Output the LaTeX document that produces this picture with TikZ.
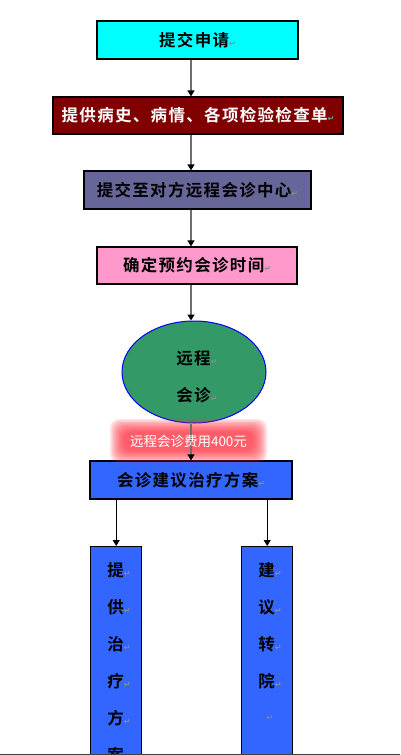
\documentclass[tikz,border=0pt]{standalone}
\usepackage{fontspec}
\newfontfamily\cjk{Noto Sans CJK SC}[BoldFont={Noto Sans CJK SC Bold},LetterSpace=8]
\newfontfamily\cjkplain{Noto Sans CJK SC}
\newfontfamily\dv{DejaVu Sans}
\usetikzlibrary{arrows.meta,shapes.geometric}
\definecolor{cyanbox}{HTML}{00FFFF}
\definecolor{redbox}{HTML}{800000}
\definecolor{purplebox}{HTML}{666699}
\definecolor{pinkbox}{HTML}{FF99CC}
\definecolor{greenell}{HTML}{339966}
\definecolor{bluebox}{HTML}{3366FF}
\definecolor{markgray}{HTML}{8C8C8C}
\definecolor{linegray}{HTML}{6E6E6E}
\definecolor{glowred}{HTML}{FF2A3C}
\newcommand\parmark{{\dv\fontsize{8}{8}\selectfont\color{markgray}↵}}
\begin{document}
\begin{tikzpicture}[x=1pt,y=-1pt,
  box/.style={draw=black, line width=1.2pt, minimum height=38pt, inner sep=0pt,
    font=\cjk\bfseries\fontsize{16.5}{20}\selectfont},
  vbox/.style={draw=black, line width=1.2pt, fill=bluebox, minimum width=51pt,
    minimum height=260pt, anchor=north, inner sep=0pt},
  vchar/.style={inner sep=0pt, font=\cjk\bfseries\fontsize{16.5}{20}\selectfont},
  conn/.style={draw=linegray, line width=1.3pt, -{Triangle[black,length=6pt,width=7pt]}},
  bconn/.style={draw=black, line width=1.1pt, -{Triangle[black,length=6pt,width=7pt]}},
  fee/.style={inner sep=0pt, text=white, font=\cjkplain\fontsize{13.5}{15}\selectfont}
]
\useasboundingbox (0,0) rectangle (400,755);
\clip (0,0) rectangle (400,755);
\fill[white] (0,0) rectangle (400,755);
\coordinate (ax) at (191,0);

\node[box, fill=cyanbox, minimum width=201pt] (b1) at (197.5,40) {提交申请\parmark};
\node[box, fill=redbox, text=white, minimum width=290pt, minimum height=37pt] (b2) at (198,115.5) {提供病史、病情、各项检验检查单\parmark};
\node[box, fill=purplebox, minimum width=227pt] (b3) at (197.5,190) {提交至对方远程会诊中心\parmark};
\node[box, fill=pinkbox, minimum width=200pt, minimum height=37pt] (b4) at (197,265.5) {确定预约会诊时间\parmark};
\node[ellipse, draw=blue, line width=1pt, fill=greenell, minimum width=144pt, minimum height=102pt, inner sep=0pt] (e) at (194,372) {};
\node[vchar] (e1) at (193.5,358) {远程\rlap{\parmark}};
\node[vchar] (e2) at (193.5,395) {会诊\rlap{\parmark}};
\node[box, fill=bluebox, minimum width=202pt] (b6) at (191,480) {会诊建议治疗方案\parmark};

\node[vbox] (v1) at (116.2,546) {};
\node[vbox] (v2) at (267.2,546) {};
\foreach \c [count=\i] in {提,供,治,疗,方,案}
  \node[vchar] at (115.5,{570+37*(\i-1)}) {\c\rlap{\parmark}};
\foreach \c [count=\i] in {建,议,转,院}
  \node[vchar] at (266.5,{570+37*(\i-1)}) {\c\rlap{\parmark}};
\node[inner sep=0pt] at (270,718) {\parmark};

% glow behind fee label
\foreach \k in {0,...,9}
  \fill[glowred, opacity=0.13, rounded corners=9pt]
    ({124-14+1.5*\k},{432-13+1.4*\k}) rectangle ({253+14-1.5*\k},{450+13-1.4*\k});

\draw[conn] (b1.south -| ax) -- (b2.north -| ax);
\draw[conn] (b2.south -| ax) -- (b3.north -| ax);
\draw[conn] (b3.south -| ax) -- (b4.north -| ax);
\draw[conn] (b4.south -| ax) -- (e.north -| ax);
\draw[conn] (e.south -| ax) -- (b6.north -| ax);
\draw[bconn] (b6.south -| v1.north) -- (v1.north);
\draw[bconn] (b6.south -| v2.north) -- (v2.north);

\node[fee] (fee) at (188.5,441) {远程会诊费用400元};

\draw[line width=1.6pt, draw=black!75] (0,754.5) -- (400,754.5);
\end{tikzpicture}
\end{document}
